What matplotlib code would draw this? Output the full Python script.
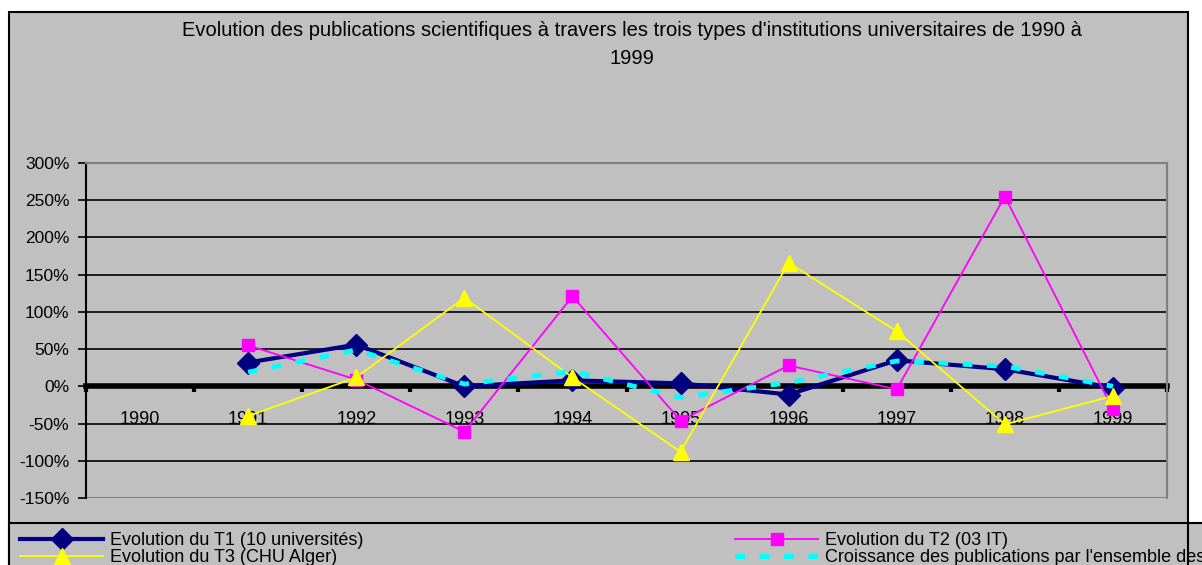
# evolution of scientific publications, 1990-1999

import numpy as np
import matplotlib.pyplot as plt
from matplotlib.patches import Rectangle
from matplotlib.ticker import FuncFormatter

plt.rcParams['font.family'] = ['Liberation Sans', 'DejaVu Sans']

years = ['1990', '1991', '1992', '1993', '1994', '1995', '1996', '1997', '1998', '1999']
t1 = [np.nan, 32, 56, 0, 8, 4, -11, 35, 23, -2]
t2 = [np.nan, 55, 9, -61, 121, -46, 28, -4, 255, -31]
t3 = [np.nan, -40, 12, 119, 12, -88, 166, 74, -51, -13]
total = [np.nan, 19, 49, 3, 20, -15, 5, 34, 27, 0]

labels = ['Evolution du T1 (10 universités)',
          'Evolution du T2 (03 IT)',
          'Evolution du T3 (CHU Alger)',
          "Croissance des publications par l'ensemble des institutions"]

gray = '#C0C0C0'
W, H = 1202, 565
fig = plt.figure(figsize=(W / 100, H / 100), dpi=100)
fig.patch.set_facecolor('white')

# chart area and legend strip backgrounds
fig.add_artist(Rectangle((9 / W, -0.05), 1179 / W, 1.05 - 12 / H, transform=fig.transFigure,
                         facecolor=gray, edgecolor='black', lw=1.5, zorder=-10))
fig.add_artist(Rectangle((9 / W, -0.05), 1.1, 0.05 + 42 / H, transform=fig.transFigure,
                         facecolor=gray, edgecolor='black', lw=1.5, zorder=-9))
fig.add_artist(plt.Line2D([1188 / W, 1188 / W], [0, 42 / H], transform=fig.transFigure,
                          color='black', lw=1.5, zorder=-8))

ax = fig.add_axes([86 / W, 67 / H, 1081 / W, 335 / H])
ax.set_facecolor(gray)

x = np.arange(len(years))
ax.plot(x, t1, color='#000080', lw=3, marker='D', ms=11, label=labels[0], zorder=3)
ax.plot(x, t2, color='#FF00FF', lw=1.3, marker='s', ms=8, label=labels[1], zorder=4)
ax.plot(x, t3, color='#FFFF00', lw=1.3, marker='^', ms=11, label=labels[2], zorder=4)
ax.plot(x, total, color='#00FFFF', lw=3.5, dashes=(2, 3), label=labels[3], zorder=5)

ax.set_xlim(-0.5, len(years) - 0.5)
ax.set_ylim(-150, 300)
ax.set_yticks(np.arange(-150, 301, 50))
ax.yaxis.set_major_formatter(FuncFormatter(lambda v, p: f'{v:.0f}%'))
for v in range(-100, 300, 50):
    ax.axhline(v, color='black', lw=1.2, zorder=1)

# x axis on the zero line, ticks between categories
ax.spines['bottom'].set_position(('data', 0))
ax.spines['bottom'].set_linewidth(4)
ax.spines['bottom'].set_zorder(2)
ax.set_xticks(np.arange(-0.5, len(years), 1))
ax.set_xticklabels([])
ax.set_xticks(x, minor=True)
ax.set_xticklabels(years, minor=True)
ax.tick_params(axis='x', which='major', direction='out', length=4, width=3, color='black')
ax.tick_params(axis='x', which='minor', length=0, pad=18, labelsize=13)
ax.tick_params(axis='y', direction='out', length=6, width=1.2, labelsize=12.5, pad=6)

ax.spines['left'].set_linewidth(1.5)
for s in ['top', 'right']:
    ax.spines[s].set_color('#808080')
    ax.spines[s].set_linewidth(1.5)
ax.add_patch(Rectangle((0, 0), 1, 1, transform=ax.transAxes, fill=False,
                       edgecolor='#808080', lw=1.5, zorder=0.5))

fig.text(632 / W, 1 - 44 / H,
         "Evolution des publications scientifiques à travers les trois types d'institutions universitaires de 1990 à\n1999",
         ha='center', va='center', fontsize=14.5, linespacing=1.6, multialignment='center')

handles, _ = ax.get_legend_handles_labels()
kw = dict(loc='upper left', frameon=False, fontsize=13, handlelength=4.6,
          borderpad=0, borderaxespad=0, labelspacing=0.0, handletextpad=0.4)
fig.legend([handles[0], handles[2]], [labels[0], labels[2]],
           bbox_to_anchor=(20 / W, 1 - 532 / H), **kw)
fig.legend([handles[1], handles[3]], [labels[1], labels[3]],
           bbox_to_anchor=(735 / W, 1 - 532 / H), **kw)

plt.savefig('out.png', dpi=100, facecolor=fig.get_facecolor())
